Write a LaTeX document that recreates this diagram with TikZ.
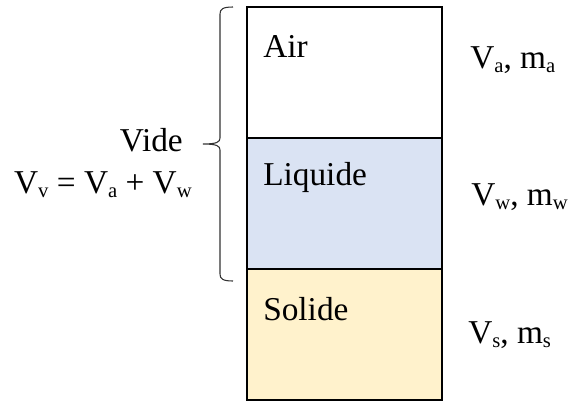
\documentclass[tikz,border=0pt]{standalone}
\usepackage{fontspec}
\setmainfont{Liberation Serif}
\usetikzlibrary{positioning}
\definecolor{liqblue}{HTML}{DAE3F3}
\definecolor{solgold}{HTML}{FFF2CC}
\newcommand{\sbs}[1]{\raisebox{-3pt}{\fontsize{15.5}{15.5}\selectfont #1}}

\begin{document}
\begin{tikzpicture}[
  x=0.75pt, y=-0.75pt,
  node distance=0pt,
  phase/.style={draw,line width=0.9pt,minimum width=146.25pt,minimum height=98.25pt,inner sep=0pt,outer sep=0pt},
  tag/.style={font=\fontsize{25}{30}\selectfont,inner sep=0pt},
  brace/.style={line width=0.8pt,black!80}
]
  \useasboundingbox (0,0) rectangle (569,401);

  % the three phases
  \node[phase,anchor=north west] (air) at (247,7) {};
  \node[phase,fill=liqblue,below=of air] (liquide) {};
  \node[phase,fill=solgold,below=of liquide] (solide) {};

  \node[tag,anchor=base west] (airtxt) at (263,57) {Air};
  \node[tag,anchor=base west] (liqtxt) at (263,185) {Liquide};
  \node[tag,anchor=base west] (soltxt) at (263,320) {Solide};

  % volumes and masses
  \node[tag,anchor=base west] (va) at (470,68) {V\sbs{a}, m\sbs{a}};
  \node[tag,anchor=base west] (vw) at (471,205) {V\sbs{w}, m\sbs{w}};
  \node[tag,anchor=base west] (vs) at (468,343) {V\sbs{s}, m\sbs{s}};

  % voids
  \node[tag,anchor=base east] (vide) at (183,151) {Vide};
  \node[tag,anchor=base east] (vv) at (192,193) {V\sbs{v} = V\sbs{a} + V\sbs{w}};

  \coordinate (bt) at (233,7);
  \coordinate (btip) at (203,144);
  \coordinate (bb) at (233,281);
  \draw[brace] (bt) .. controls (223,7) and (220,9) .. (220,14) -- (220,138)
    .. controls (220,142) and (217,144) .. (btip)
    .. controls (217,144) and (220,146) .. (220,150) -- (220,274)
    .. controls (220,279) and (223,281) .. (bb);
\end{tikzpicture}
\end{document}
